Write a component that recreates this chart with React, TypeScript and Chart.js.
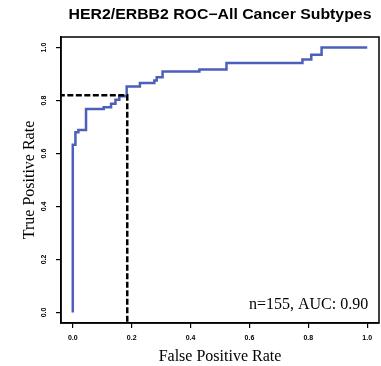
import React, { useEffect, useRef } from "react";
import { Chart, registerables } from "chart.js";

Chart.register(...registerables);

const fpr = [0, 0, 0.009, 0.019, 0.045, 0.105, 0.13, 0.145, 0.158, 0.183, 0.228, 0.277, 0.285, 0.305, 0.43, 0.522, 0.78, 0.81, 0.845, 1.0];
const tpr = [0, 0.633, 0.68, 0.689, 0.768, 0.775, 0.788, 0.803, 0.816, 0.853, 0.866, 0.876, 0.888, 0.91, 0.917, 0.942, 0.955, 0.973, 1.0, 1.0];
const cutoffFpr = 0.185;
const cutoffTpr = 0.82;
const tickValues = [0, 0.2, 0.4, 0.6, 0.8, 1.0];
const tickLabels = ["0.0", "0.2", "0.4", "0.6", "0.8", "1.0"];
const titleText = "HER2/ERBB2 ROC\u2212All Cancer Subtypes";
const xTitle = "False Positive Rate";
const yTitle = "True Positive Rate";
const annotation = "n=155, AUC: 0.90";

export default function App() {
  const ref = useRef<HTMLCanvasElement | null>(null);
  useEffect(() => {
    const canvas = ref.current!;
    const boxPlugin = {
      id: "boxPlugin",
      afterDraw(chart: any) {
        const { ctx, chartArea } = chart;
        const ys = chart.scales.y;
        ctx.save();
        ctx.strokeStyle = "#000";
        ctx.lineWidth = 1.5;
        ctx.strokeRect(chartArea.left, chartArea.top, chartArea.right - chartArea.left, chartArea.bottom - chartArea.top);
        ctx.fillStyle = "#000";
        // main title, centred over the plot box
        ctx.save();
        ctx.font = "bold 14px 'Liberation Sans', Arial, sans-serif";
        ctx.textAlign = "center";
        ctx.textBaseline = "alphabetic";
        ctx.translate((chartArea.left + chartArea.right) / 2, 19);
        ctx.scale(1.13, 1);
        ctx.fillText(titleText, 0, 0);
        ctx.restore();
        // y tick labels (rotated, R style)
        ctx.font = "bold 7px 'Liberation Sans', Arial, sans-serif";
        ctx.textAlign = "center";
        ctx.textBaseline = "middle";
        tickValues.forEach((v, i) => {
          const y = ys.getPixelForValue(v);
          ctx.save();
          ctx.translate(44, y);
          ctx.rotate(-Math.PI / 2);
          ctx.fillText(tickLabels[i], 0, 0);
          ctx.restore();
        });
        ctx.font = "16px 'Liberation Serif', 'Times New Roman', serif";
        ctx.textAlign = "right";
        ctx.fillText(annotation, chart.scales.x.getPixelForValue(1.0) + 1, ys.getPixelForValue(0.03));
        ctx.restore();
      },
    };
    const chart = new Chart(canvas, {
      type: "scatter",
      data: {
        datasets: [
          {
            data: fpr.map((x, i) => ({ x, y: tpr[i] })),
            showLine: true,
            stepped: "before",
            borderColor: "#4d5fb8",
            borderWidth: 2.5,
            pointRadius: 0,
            fill: false,
            order: 1,
          },
          {
            data: [
              { x: -1, y: cutoffTpr },
              { x: cutoffFpr, y: cutoffTpr },
              { x: cutoffFpr, y: -1 },
            ],
            showLine: true,
            borderColor: "#000",
            borderWidth: 2.5,
            borderDash: [6, 2.5],
            pointRadius: 0,
            fill: false,
            order: 0,
          },
        ],
      },
      options: {
        responsive: false,
        animation: false,
        devicePixelRatio: 1,
        layout: { padding: { left: 0, right: 2, top: 37, bottom: 0 } },
        plugins: {
          legend: { display: false },
          tooltip: { enabled: false },
          title: { display: false },
        },
        scales: {
          x: {
            type: "linear",
            min: -0.04,
            max: 1.04,
            afterBuildTicks: (s: any) => {
              s.ticks = tickValues.map((v) => ({ value: v }));
            },
            afterFit: (s: any) => {
              s.height = 43;
            },
            ticks: {
              color: "#000",
              font: { family: "'Liberation Sans', Arial, sans-serif", size: 7, weight: "bold" },
              padding: 6,
              maxRotation: 0,
              callback: (v: any) => tickLabels[tickValues.indexOf(Number(v))] ?? "",
            },
            grid: { display: true, drawOnChartArea: false, drawTicks: true, tickLength: 5, color: "#000", lineWidth: 1.2 },
            border: { display: true, color: "#000", width: 1.5 },
            title: {
              display: true,
              text: xTitle,
              color: "#000",
              font: { family: "'Liberation Serif', 'Times New Roman', serif", size: 16, lineHeight: 1.2 },
              padding: { top: -1, bottom: 0 },
            },
          },
          y: {
            type: "linear",
            min: -0.04,
            max: 1.04,
            afterBuildTicks: (s: any) => {
              s.ticks = tickValues.map((v) => ({ value: v }));
            },
            afterFit: (s: any) => {
              s.width = 61;
            },
            ticks: { display: false },
            grid: { display: true, drawOnChartArea: false, drawTicks: true, tickLength: 5, color: "#000", lineWidth: 1.2 },
            border: { display: true, color: "#000", width: 1.5 },
            title: {
              display: true,
              text: yTitle,
              color: "#000",
              font: { family: "'Liberation Serif', 'Times New Roman', serif", size: 16, lineHeight: 1.2 },
              padding: { top: 20.4, bottom: 0 },
            },
          },
        },
      },
      plugins: [boxPlugin],
    } as any);
    return () => chart.destroy();
  }, []);
  return (
    <div style={{ position: "absolute", left: 0, top: 0, width: 381, height: 366, background: "#fff" }}>
      <canvas ref={ref} width={381} height={366} style={{ width: 381, height: 366 }} />
    </div>
  );
}
